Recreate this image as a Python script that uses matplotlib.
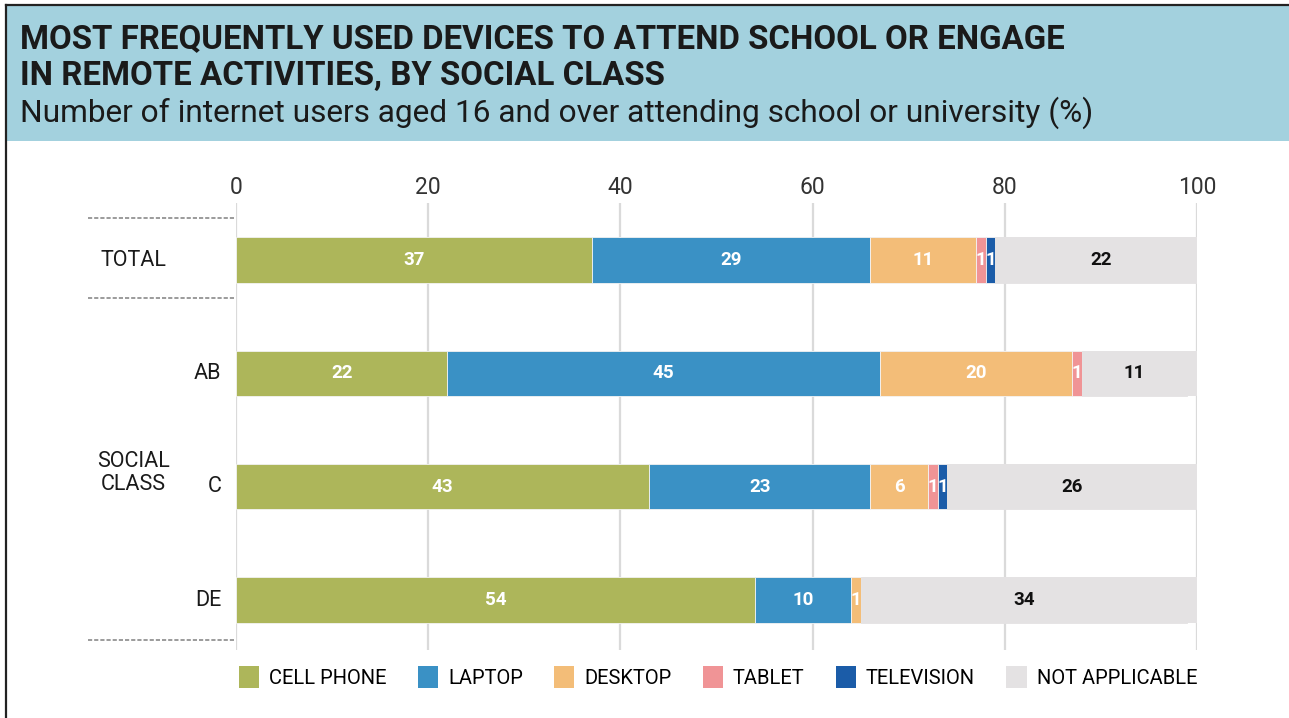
import matplotlib
matplotlib.use("Agg")
import matplotlib.pyplot as plt
from matplotlib.patches import Rectangle, Patch
from matplotlib.lines import Line2D

# ---- data -------------------------------------------------------------
categories = ["TOTAL", "AB", "C", "DE"]
series_names = ["CELL PHONE", "LAPTOP", "DESKTOP", "TABLET", "TELEVISION", "NOT APPLICABLE"]
cell_phone = [37, 22, 43, 54]
laptop = [29, 45, 23, 10]
desktop = [11, 20, 6, 1]
tablet = [1, 1, 1, 0]
television = [1, 0, 1, 0]
not_applicable = [22, 11, 26, 34]
x_ticks = [0, 20, 40, 60, 80, 100]

title_lines = ["MOST FREQUENTLY USED DEVICES TO ATTEND SCHOOL OR ENGAGE",
               "IN REMOTE ACTIVITIES, BY SOCIAL CLASS"]
subtitle = "Number of internet users aged 16 and over attending school or university (%)"
group_label = "SOCIAL\nCLASS"

# ---- style ------------------------------------------------------------
colors = ["#adb65a", "#3a91c5", "#f3bd78", "#f09496", "#1b5ca8", "#e4e2e3"]
label_colors = ["white", "white", "white", "white", "white", "#111111"]
header_color = "#a3d1de"
FONT = ["Roboto", "DejaVu Sans"]

W, H = 1289, 718
fig = plt.figure(figsize=(W / 100, H / 100), dpi=100)


def fx(px):
    return px / W


def fy(py):
    return 1 - py / H


# header band and frame
fig.patches.append(Rectangle((fx(6), fy(141)), 1 - fx(6), fy(5) - fy(141),
                             transform=fig.transFigure, facecolor=header_color,
                             edgecolor="none", zorder=0))
fig.add_artist(Line2D([fx(6), 1], [fy(5), fy(5)], transform=fig.transFigure,
                      color="#222222", lw=1.6))
fig.add_artist(Line2D([fx(6), fx(6)], [fy(5), 0], transform=fig.transFigure,
                      color="#222222", lw=1.6))

fig.text(fx(20), fy(48), title_lines[0], family=FONT, weight="bold",
         fontsize=23.8, color="#1a1a1a", va="baseline", ha="left")
fig.text(fx(20), fy(85), title_lines[1], family=FONT, weight="bold",
         fontsize=23.8, color="#1a1a1a", va="baseline", ha="left")
fig.text(fx(20), fy(122), subtitle, family=FONT, fontsize=22.8,
         color="#1a1a1a", va="baseline", ha="left")

# ---- chart --------------------------------------------------------------
ax = fig.add_axes([fx(236), fy(650), fx(1197) - fx(236), fy(203) - fy(650)])
ypos = list(range(len(categories)))
bar_h = 0.4
values = [cell_phone, laptop, desktop, tablet, television, not_applicable]

# light track behind each bar across the full scale
ax.barh(ypos, [x_ticks[-1]] * len(ypos), height=bar_h, color=colors[-1], zorder=1)

left = [0] * len(categories)
for name, vals, col, lcol in zip(series_names, values, colors, label_colors):
    edge = col if col == colors[-1] else "#f4f4f4"
    bars = ax.barh(ypos, vals, left=left, height=bar_h, color=col,
                   edgecolor=edge, linewidth=0.6, label=name, zorder=2)
    for i, (b, v) in enumerate(zip(bars, vals)):
        if v > 0:
            cx = left[i] + v / 2
            ax.text(cx, ypos[i], f"{v}", ha="center", va="center",
                    color=lcol, fontsize=13.5, weight="bold", family=FONT,
                    zorder=3, clip_on=False)
    left = [l + v for l, v in zip(left, vals)]

ax.set_xlim(x_ticks[0], x_ticks[-1])
ax.set_ylim(3.44, -0.503)
ax.set_xticks(x_ticks)
ax.xaxis.tick_top()
ax.tick_params(axis="x", length=0, pad=3, labelsize=16.5, labelcolor="#333333")
for lab in ax.get_xticklabels():
    lab.set_family(FONT)
ax.set_yticks([])
for s in ax.spines.values():
    s.set_visible(False)
ax.set_axisbelow(True)
ax.grid(axis="x", color="#dadada", lw=1.6, zorder=0)

# row labels
ax.text(-10.7, 0, categories[0], ha="center", va="center", fontsize=15.5,
        family=FONT, color="#1a1a1a", clip_on=False)
for i in range(1, len(categories)):
    ax.text(-1.5, ypos[i], categories[i], ha="right", va="center", fontsize=15.5,
            family=FONT, color="#1a1a1a", clip_on=False)
ax.text(-10.7, 1.88, group_label, ha="center", va="center", fontsize=15.5,
        family=FONT, color="#1a1a1a", linespacing=1.15, clip_on=False)

# dotted separators in the label column
for yy in (-0.37, 0.335, 3.35):
    ax.plot([-15.4, 0], [yy, yy], ls=(0, (2.5, 1.2)), color="#8a8a8a", lw=1.2,
            clip_on=False)

# legend
handles = [Patch(facecolor=c, edgecolor="none") for c in colors]
fig.legend(handles, series_names, loc="center", bbox_to_anchor=(fx(718), fy(677)),
           ncol=6, frameon=False, handlelength=1.0, handleheight=1.3,
           handletextpad=0.5, columnspacing=1.55,
           prop={"family": FONT, "size": 14.5})

fig.savefig("out.png", dpi=100)
